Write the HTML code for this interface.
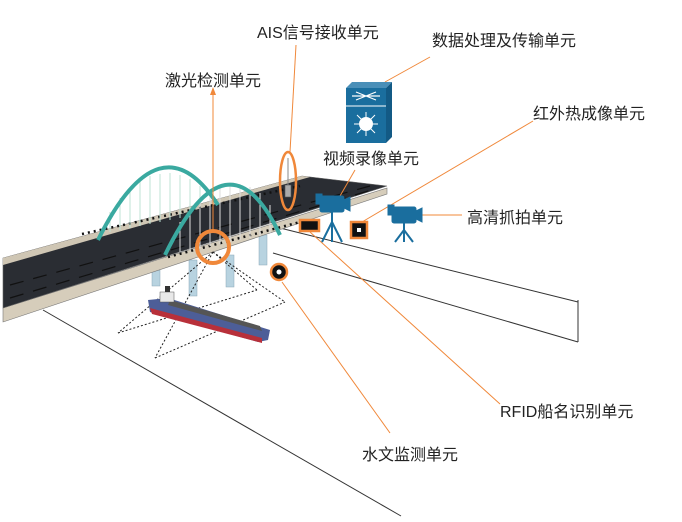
<!DOCTYPE html>
<html><head><meta charset="utf-8"><style>
html,body{margin:0;padding:0;background:#fff;}
svg{display:block;}
text{font-family:"Liberation Sans","Noto Sans CJK SC",sans-serif;font-size:16px;fill:#222;}
</style></head><body>
<svg width="682" height="522" viewBox="0 0 682 522" xmlns="http://www.w3.org/2000/svg">
<!-- ground lines -->
<g stroke="#333" stroke-width="1" fill="none">
<line x1="43" y1="310" x2="401" y2="516"/>
<line x1="280" y1="228" x2="578" y2="302"/>
<line x1="273" y1="253" x2="578" y2="342"/>
<line x1="578" y1="300" x2="578" y2="342"/>
</g>
<!-- piers -->
<g fill="#b8d3e0" stroke="#8aa8b8" stroke-width="0.5">
<rect x="152" y="270" width="8" height="16"/>
<rect x="189" y="260" width="8" height="36"/>
<rect x="226" y="255" width="8" height="32"/>
<rect x="259" y="235" width="8" height="30"/>
</g>
<!-- deck side face -->
<polygon points="3,308 387,188 387,194 3,322" fill="#d6cdbb" stroke="#777" stroke-width="0.6"/>
<!-- deck top -->
<polygon points="3,258 302,176 387,186 3,308" fill="#2a2d33" stroke="#666" stroke-width="0.6"/>
<polygon points="3,258 302,176 310,177 3,265" fill="#cfc6b4"/>
<g stroke="#111" stroke-width="1.2" stroke-dasharray="14,10">
<line x1="10" y1="285" x2="370" y2="186"/>
<line x1="10" y1="298" x2="375" y2="189"/>
</g>
<!-- railings -->
<g stroke="#111" stroke-width="2.5" stroke-dasharray="2,4">
<line x1="82" y1="234" x2="300" y2="186"/>
<line x1="168" y1="257" x2="300" y2="222"/>
</g>
<!-- arch cables -->
<g stroke="#bfe3d6" stroke-width="1">
<path d="M110 232 V212 M120 230 V198 M130 228 V188 M140 226 V180 M150 224 V176 M160 222 V174 M170 220 V173 M180 218 V175 M190 216 V179 M200 214 V186 M210 212 V196"/>
</g>
<g stroke="#ddd" stroke-width="1">
<path d="M180 252 V222 M190 250 V208 M200 248 V198 M210 246 V191 M220 244 V186 M230 242 V184 M240 240 V184 M250 238 V187 M260 236 V193 M270 233 V205"/>
</g>
<!-- arches -->
<path d="M98 240 Q160 115 218 205" stroke="#3aa9a0" stroke-width="4" fill="none"/>
<path d="M165 255 Q228 125 280 235" stroke="#3aa9a0" stroke-width="4" fill="none"/>
<!-- dotted laser lines -->
<g stroke="#222" stroke-width="1" stroke-dasharray="2,2" fill="none">
<line x1="213" y1="252" x2="118" y2="333"/>
<line x1="213" y1="252" x2="155" y2="358"/>
<line x1="213" y1="252" x2="257" y2="290"/>
<line x1="213" y1="252" x2="285" y2="302"/>
<line x1="118" y1="333" x2="257" y2="290"/>
<line x1="155" y1="358" x2="285" y2="302"/>
</g>
<!-- ship -->
<polygon points="148,300 168,298 270,330 268,340 258,342 150,312" fill="#4d5e98"/>
<polygon points="150,308 262,338 262,343 152,314" fill="#b8303a"/>
<polygon points="170,300 260,326 262,331 168,305" fill="#555"/>
<rect x="160" y="292" width="14" height="10" fill="#e8e8e8" stroke="#555" stroke-width="0.5"/>
<rect x="165" y="286" width="5" height="6" fill="#333"/>
<!-- leader lines -->
<g stroke="#f0883a" stroke-width="1" fill="none">
<line x1="296" y1="45" x2="290" y2="152"/>
<line x1="213" y1="88" x2="213" y2="231"/>
<line x1="430" y1="57" x2="385" y2="82"/>
<line x1="533" y1="121" x2="362" y2="222"/>
<line x1="355" y1="170" x2="340" y2="196"/>
<line x1="420" y1="215" x2="462" y2="215"/>
<line x1="310" y1="232" x2="500" y2="404"/>
<line x1="282" y1="282" x2="390" y2="433"/>
</g>
<polygon points="210,95 213,87 216,95" fill="#f0883a"/>
<!-- markers -->
<circle cx="213" cy="247" r="16" stroke="#f0883a" stroke-width="4" fill="none"/>
<ellipse cx="288" cy="181" rx="8" ry="29" stroke="#f0883a" stroke-width="2.5" fill="none"/>
<rect x="285" y="185" width="6" height="12" fill="#aaa" stroke="#555" stroke-width="0.6"/>
<line x1="288" y1="158" x2="288" y2="185" stroke="#888" stroke-width="1"/>
<circle cx="279" cy="272" r="8" fill="#111" stroke="#f0883a" stroke-width="2.5"/>
<circle cx="279" cy="272" r="2.5" fill="#fff"/>
<rect x="300" y="220" width="19" height="11" fill="#111" stroke="#f0883a" stroke-width="2.5"/>
<rect x="351" y="222" width="16" height="16" fill="#111" stroke="#f0883a" stroke-width="2.5"/>
<rect x="357" y="228" width="4" height="4" fill="#fff"/>
<!-- video camera -->
<g fill="#1a6e9e" stroke="#1a6e9e">
<rect x="320" y="196" width="24" height="16" rx="2"/>
<polygon points="344,200 350,197 350,211 344,208"/>
<rect x="316" y="194" width="6" height="10"/>
<path d="M332 212 V222 M332 222 L322 242 M332 222 L342 242 M332 222 V242" stroke-width="2" fill="none"/>
</g>
<!-- HD camera -->
<g fill="#1a6e9e" stroke="#1a6e9e">
<rect x="392" y="207" width="24" height="16" rx="2"/>
<polygon points="416,211 422,208 422,222 416,219"/>
<rect x="388" y="205" width="6" height="10"/>
<path d="M404 223 V230 M404 230 L395 242 M404 230 L413 242 M404 230 V242" stroke-width="2" fill="none"/>
</g>
<!-- server -->
<polygon points="346,88 386,88 392,82 352,82" fill="#4a8fb8"/>
<polygon points="386,88 392,82 392,137 386,143" fill="#135a85"/>
<rect x="346" y="88" width="40" height="55" fill="#1a6e9e"/>
<line x1="346" y1="106" x2="386" y2="106" stroke="#fff" stroke-width="1"/>
<path d="M352 96 H380 M356 100 L376 92 M356 92 L376 100" stroke="#fff" stroke-width="1.2"/>
<circle cx="366" cy="124" r="7" fill="#fff"/>
<g stroke="#fff" stroke-width="1"><path d="M366 112 V136 M354 124 H378 M357 115 L375 133 M375 115 L357 133"/></g>
<!-- labels -->
<text x="257" y="38">AIS信号接收单元</text>
<text x="432" y="46">数据处理及传输单元</text>
<text x="165" y="86">激光检测单元</text>
<text x="533" y="119">红外热成像单元</text>
<text x="323" y="164">视频录像单元</text>
<text x="467" y="223">高清抓拍单元</text>
<text x="500" y="417">RFID船名识别单元</text>
<text x="362" y="460">水文监测单元</text>
</svg>
</body></html>
